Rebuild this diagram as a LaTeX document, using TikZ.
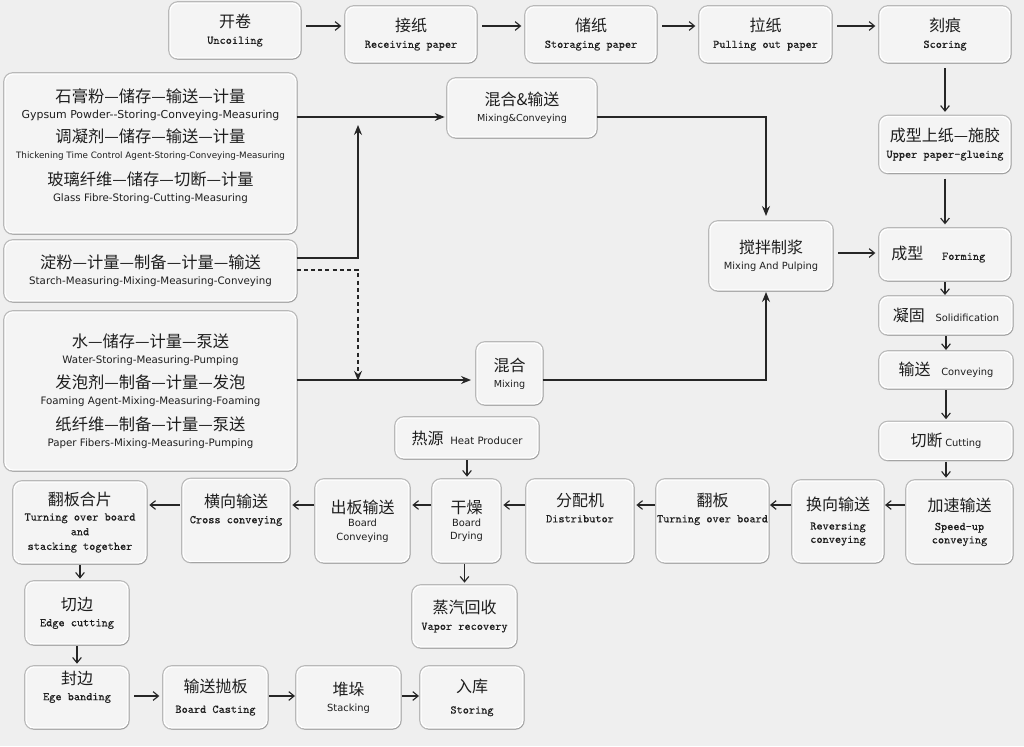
\documentclass[tikz,border=0pt]{standalone}
\usepackage{fontspec}
\usetikzlibrary{arrows.meta,shadows}
\newfontfamily\cjk{Noto Sans CJK SC}
\newfontfamily\sfa{DejaVu Sans}
\newfontfamily\ttx[FakeBold=0.3]{lmmono10-regular.otf}
\definecolor{bg}{RGB}{239,239,239}
\definecolor{boxf}{RGB}{244,244,244}
\definecolor{ink}{RGB}{30,30,30}
\definecolor{arr}{RGB}{38,38,38}
\newcommand\zh[1]{{\cjk\fontsize{12}{13}\selectfont #1}}
\newcommand\zl[1]{{\cjk\fontsize{12.2}{13}\selectfont #1}}
\newcommand\tm[1]{{\ttx\fontsize{8.8}{10}\selectfont #1}}
\newcommand\sa[2]{{\sfa\fontsize{#1}{10}\selectfont #2}}
\newcommand\bxnode[6]{\node[bx,minimum width=#4*0.75pt,minimum height=#5*0.75pt] (#1) at (#2,#3) {#6};}
\tikzset{
  bx/.style={draw=white, line width=1pt, fill=boxf, rounded corners=6pt, align=center,
    text=ink, inner sep=0pt, font=\fontsize{9}{12}\selectfont,
    preaction={draw=black!28, line width=2.8pt},
    drop shadow={shadow xshift=0.7pt, shadow yshift=-1pt, opacity=0.45, fill=black!55}},
  arb/.style={draw=arr, line width=0.85pt, shorten <=4pt, shorten >=3pt,
    -{Straight Barb[length=4pt,width=6.5pt]}},
  arf/.style={draw=arr, line width=0.9pt, -{Stealth[length=7.5pt,width=6pt,inset=2.5pt]}},
}
\begin{document}
\begin{tikzpicture}[x=0.75pt,y=-0.75pt]
\useasboundingbox (0,0) rectangle (1024,746);
\fill[bg] (0,0) rectangle (1024,746);
% helper coordinates
\coordinate (h26) at (0,26);
\coordinate (h117) at (0,117);
\coordinate (h125) at (0,125);
\coordinate (h253) at (0,253);
\coordinate (h258) at (0,258);
\coordinate (h270) at (0,270);
\coordinate (h380) at (0,380);
\coordinate (h505) at (0,505);
\coordinate (h696) at (0,696);
\coordinate (v358) at (358,0);
\coordinate (v766) at (766,0);
% top row
\bxnode{unc}{235}{30.5}{130}{55}{\zh{开卷}\\\tm{Uncoiling}}
\bxnode{rec}{411}{34.5}{130}{55}{\zh{接纸}\\\tm{Receiving paper}}
\bxnode{sto}{591}{34.5}{130}{55}{\zh{储纸}\\\tm{Storaging paper}}
\bxnode{pul}{765.5}{34.5}{131}{55}{\zh{拉纸}\\\tm{Pulling out paper}}
\bxnode{sco}{945}{34.5}{130}{55}{\zh{刻痕}\\\tm{Scoring}}
% left input boxes
\bxnode{gyp}{150.5}{153.5}{291}{159}{\zl{石膏粉—储存—输送—计量}\\\sa{8.2}{Gypsum Powder-{}-Storing-Conveying-Measuring}\\[6pt]\zl{调凝剂—储存—输送—计量}\\\sa{6.6}{Thickening Time Control Agent-Storing-Conveying-Measuring}\\[8pt]\zl{玻璃纤维—储存—切断—计量}\\\sa{7.7}{Glass Fibre-Storing-Cutting-Measuring}\\[1pt]}
\bxnode{sta}{150.5}{271}{291}{60}{\zl{淀粉—计量—制备—计量—输送}\\\sa{7.7}{Starch-Measuring-Mixing-Measuring-Conveying}}
\bxnode{wat}{150.5}{391}{291}{158}{\zl{水—储存—计量—泵送}\\\sa{7.7}{Water-Storing-Measuring-Pumping}\\[7pt]\zl{发泡剂—制备—计量—发泡}\\\sa{7.7}{Foaming Agent-Mixing-Measuring-Foaming}\\[7pt]\zl{纸纤维—制备—计量—泵送}\\\sa{7.7}{Paper Fibers-Mixing-Measuring-Pumping}}
% middle
\bxnode{mc}{522}{108}{148}{58}{\zh{混合\&输送}\\\sa{7.2}{Mixing\&Conveying}}
\bxnode{mp}{771}{256}{122}{68}{\zh{搅拌制浆}\\\sa{7.4}{Mixing And Pulping}}
\bxnode{mix}{509.5}{373.5}{65}{61}{\zh{混合}\\\sa{7.2}{Mixing}}
\bxnode{heat}{467}{438}{142}{40}{\zh{热源}\hspace{5pt}\sa{7.6}{Heat Producer}}
% right column
\bxnode{fo}{945}{144.5}{130}{56}{\zh{成型上纸—施胶}\\\tm{Upper paper-glueing}}
\bxnode{form}{945}{254.5}{130}{51}{\zh{成型}\hspace{14pt}\tm{Forming}\hspace{10pt}}
\bxnode{sol}{946}{315.5}{132}{37}{\zh{凝固}\hspace{8pt}\sa{7.4}{Solidification}}
\bxnode{con}{946}{370}{132}{36}{\zh{输送}\hspace{8pt}\sa{7.4}{Conveying}}
\bxnode{cut}{946}{441}{132}{37}{\zh{切断}\hspace{2pt}\sa{7.4}{Cutting}}
% third row
\bxnode{spd}{959.5}{522}{105}{82}{\zh{加速输送}\\[2pt]\tm{Speed-up}\\[-2pt]\tm{conveying}}
\bxnode{rev}{838}{521.5}{90}{81}{\zh{换向输送}\\[2pt]\tm{Reversing}\\[-2pt]\tm{conveying}}
\bxnode{tob}{712.5}{521}{107}{82}{\zh{翻板}\\\tm{Turning over board}\\[8pt]}
\bxnode{dis}{580}{521}{106}{82}{\zh{分配机}\\\tm{Distributor}\\[8pt]}
\bxnode{dry}{466.5}{521}{67}{82}{\zh{干燥}\\[-2pt]\sa{7.4}{Board}\\[-2pt]\sa{7.4}{Drying}}
\bxnode{bco}{362.5}{521}{93}{82}{\zh{出板输送}\\[-2pt]\sa{7.4}{Board}\\[-2pt]\sa{7.4}{Conveying}}
\bxnode{cro}{236}{520.5}{106}{82}{\zh{横向输送}\\\tm{Cross conveying}\\[6pt]}
\bxnode{tst}{80}{522.5}{132}{81}{\zh{翻板合片}\\[-1pt]\tm{Turning over board}\\[-1pt]\tm{and}\\[-1pt]\tm{stacking together}}
\bxnode{vap}{464.5}{616.5}{103}{61}{\zh{蒸汽回收}\\\tm{Vapor recovery}}
% left column and bottom row
\bxnode{edg}{77}{613}{102}{62}{\zh{切边}\\\tm{Edge cutting}}
\bxnode{ban}{77}{697.5}{102}{61}{\zh{封边}\\\tm{Ege banding}\\[6pt]}
\bxnode{cas}{215.5}{697.5}{103}{61}{\zh{输送抛板}\\[3pt]\tm{Board Casting}}
\bxnode{stk}{348.5}{697.5}{103}{61}{\zh{堆垛}\\\sa{7.4}{Stacking}}
\bxnode{sti}{472}{697.5}{102}{61}{\zh{入库}\\[4pt]\tm{Storing}}
% connectors: top row
\draw[arb] (unc.east |- h26) -- (rec.west |- h26);
\draw[arb] (rec.east |- h26) -- (sto.west |- h26);
\draw[arb] (sto.east |- h26) -- (pul.west |- h26);
\draw[arb] (pul.east |- h26) -- (sco.west |- h26);
% right column
\draw[arb] (sco.south) -- (fo.north);
\draw[arb] (fo.south) -- (form.north);
\draw[arb,shorten <=1pt,shorten >=1pt] (form.south) -- (form.south |- sol.north);
\draw[arb,shorten <=1pt,shorten >=1pt] (sol.south) -- (con.north);
\draw[arb,shorten <=1pt,shorten >=2pt] (con.south) -- (cut.north);
\draw[arb,shorten <=1pt,shorten >=2pt] (cut.south) -- (cut.south |- spd.north);
% inputs
\draw[arf,shorten >=2pt] (gyp.east |- h117) -- (mc.west |- h117);
\coordinate (j1) at (v358 |- h125);
\draw[arf] (sta.east |- h258) -| (j1);
\coordinate (j2) at (v358 |- h380);
\draw[arf,dash pattern=on 3pt off 2.4pt] (sta.east |- h270) -| ([yshift=-0.6pt]j2);
\draw[arf,shorten >=4pt] (wat.east |- h380) -- (mix.west |- h380);
\draw[arf,shorten >=4pt] (mc.east |- h117) -| (v766 |- mp.north);
\draw[arf,shorten >=1pt] (mix.east |- h380) -| (v766 |- mp.south);
\draw[arb] (mp.east |- h253) -- (form.west |- h253);
% third row
\draw[arb,shorten <=1pt,shorten >=1pt] (spd.west |- h505) -- (rev.east |- h505);
\draw[arb,shorten <=1pt,shorten >=1pt] (rev.west |- h505) -- (tob.east |- h505);
\draw[arb,shorten <=1pt,shorten >=2pt] (tob.west |- h505) -- (dis.east |- h505);
\draw[arb,shorten <=1pt,shorten >=2pt] (dis.west |- h505) -- (dry.east |- h505);
\draw[arb,shorten <=1pt,shorten >=2pt] (dry.west |- h505) -- (bco.east |- h505);
\draw[arb,shorten <=1pt,shorten >=2pt] (bco.west |- h505) -- (cro.east |- h505);
\draw[arb,shorten <=2pt,shorten >=2pt] (cro.west |- h505) -- (tst.east |- h505);
\draw[arb,shorten <=1pt,shorten >=2pt] (heat.south) -- (heat.south |- dry.north);
\draw[arb,shorten <=1pt,shorten >=2pt] (vap.north |- dry.south) -- (vap.north);
% left column and bottom row
\draw[arb,shorten <=1pt,shorten >=2pt] (tst.south) -- (tst.south |- edg.north);
\draw[arb,shorten <=1pt,shorten >=2pt] (edg.south) -- (ban.north);
\draw[arb] (ban.east |- h696) -- (cas.west |- h696);
\draw[arb,shorten <=1pt,shorten >=1pt] (cas.east |- h696) -- (stk.west |- h696);
\draw[arb,shorten <=1pt,shorten >=1pt] (stk.east |- h696) -- (sti.west |- h696);
\end{tikzpicture}
\end{document}
